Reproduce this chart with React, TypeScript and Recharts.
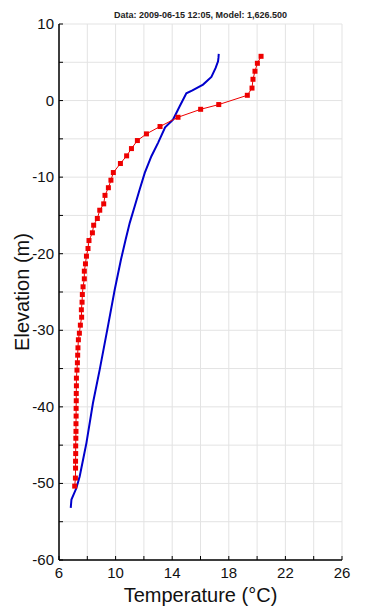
import {
  ScatterChart, Scatter, XAxis, YAxis, CartesianGrid,
} from "recharts";

// red: measured profile (square markers)
const redTemp = [
  20.28, 20.02, 19.85, 19.71, 19.64, 19.31, 17.29, 16.01, 14.41, 13.14,
  12.18, 11.54, 11.12, 10.78, 10.34, 9.84, 9.67, 9.49, 9.25, 9.16,
  8.88, 8.71, 8.45, 8.36, 8.12, 8.05, 7.94, 7.87, 7.79, 7.79,
  7.7, 7.65, 7.63, 7.58, 7.6, 7.51, 7.44, 7.37, 7.34, 7.32,
  7.3, 7.27, 7.23, 7.23, 7.22, 7.22, 7.21, 7.21, 7.2, 7.2,
  7.19, 7.18, 7.18, 7.17, 7.17, 7.16, 7.11,
];
const redElev = [
  5.78, 4.87, 3.83, 2.78, 1.63, 0.69, -0.52, -1.14, -2.18, -3.39,
  -4.35, -5.22, -6.27, -7.22, -8.22, -9.4, -10.4, -11.38, -12.38, -13.49,
  -14.32, -15.4, -16.28, -17.27, -18.28, -19.32, -20.32, -21.32, -22.28, -23.28,
  -24.32, -25.33, -26.33, -27.32, -28.29, -29.33, -30.38, -31.24, -32.29, -33.25,
  -34.24, -35.2, -36.25, -37.25, -38.25, -39.2, -40.2, -41.2, -42.2, -43.2,
  -44.1, -45.1, -46.1, -47.1, -48.0, -49.3, -50.35,
];

// blue: model profile
const blueTemp = [
  17.29, 17.27, 17.24, 17.07, 16.77, 16.18, 15.43, 15.0, 14.53, 14.06,
  13.5, 13.0, 12.53, 12.06, 11.7, 11.35, 11.0, 10.71, 10.38, 9.94,
  9.46, 8.88, 8.4, 7.94, 7.7, 7.46, 7.23, 6.88, 6.83,
];
const blueElev = [
  6.1, 5.6, 5.13, 4.27, 3.09, 2.09, 1.34, 0.95, -0.74, -2.48,
  -3.5, -5.52, -7.27, -9.44, -11.62, -13.8, -15.97, -18.15, -20.76, -24.67,
  -29.46, -35.1, -39.5, -44.7, -46.9, -49.1, -50.6, -52.1, -53.2,
];

const xTicks = [6, 8, 10, 12, 14, 16, 18, 20, 22, 24, 26];
const xLabels = [6, 10, 14, 18, 22, 26];
const yTicks = [10, 5, 0, -5, -10, -15, -20, -25, -30, -35, -40, -45, -50, -55, -60];
const yLabels = [10, 0, -10, -20, -30, -40, -50, -60];

const redData = redTemp.map((t, i) => ({ t, e: redElev[i] }));
const blueData = blueTemp.map((t, i) => ({ t, e: blueElev[i] }));

const FONT = "'Liberation Sans', Arial, sans-serif";
const RED = "#ee0000";
const BLUE = "#0000cc";

function XTick(props: any) {
  const { x, y, payload } = props;
  const v = payload.value;
  return (
    <g>
      <line x1={x} x2={x} y1={y} y2={y - 4} stroke="#000" strokeWidth={1} />
      {xLabels.includes(v) && (
        <text x={x} y={y + 18} textAnchor="middle" fontSize={15} fontFamily={FONT} fill="#111">
          {v}
        </text>
      )}
    </g>
  );
}

function YTick(props: any) {
  const { x, y, payload } = props;
  const v = payload.value;
  return (
    <g>
      <line x1={x} x2={x + 4} y1={y} y2={y} stroke="#000" strokeWidth={1} />
      {yLabels.includes(v) && (
        <text x={x - 5} y={y + 5} textAnchor="end" fontSize={15} fontFamily={FONT} fill="#111">
          {v}
        </text>
      )}
    </g>
  );
}

const Square = (props: any) => {
  const { cx, cy } = props;
  return <rect x={cx - 2.5} y={cy - 2.5} width={5} height={5} fill={RED} />;
};

const Nothing = () => <g />;

export default function App() {
  return (
    <div style={{ position: "absolute", left: 0, top: 0, width: 369, height: 611, background: "#fff" }}>
      <div
        style={{
          position: "absolute", left: 59, top: 10, width: 283, textAlign: "center",
          fontFamily: FONT, fontSize: 9, lineHeight: "11px", fontWeight: "bold", color: "#222",
        }}
      >
        Data: 2009-06-15 12:05, Model: 1,626.500
      </div>
      <ScatterChart width={369} height={611} margin={{ top: 24, right: 27, bottom: 0, left: 0 }}>
        <CartesianGrid stroke="#e3e3e3" />
        <XAxis
          type="number"
          dataKey="t"
          domain={[6, 26]}
          ticks={xTicks}
          interval={0}
          height={51}
          tickSize={0}
          tickMargin={0}
          tickLine={false}
          tick={<XTick />}
          axisLine={{ stroke: "#000", strokeWidth: 1.5 }}
          label={{
            value: "Temperature (°C)", position: "insideBottom", offset: 9,
            style: { fontSize: 20, fontFamily: FONT, fill: "#111" },
          }}
        />
        <YAxis
          type="number"
          dataKey="e"
          domain={[-60, 10]}
          ticks={yTicks}
          interval={0}
          width={59}
          tickSize={0}
          tickMargin={0}
          tickLine={false}
          tick={<YTick />}
          axisLine={{ stroke: "#000", strokeWidth: 1.5 }}
          label={{
            value: "Elevation (m)", angle: -90, position: "insideLeft", offset: 22,
            style: { fontSize: 20, fontFamily: FONT, fill: "#111", textAnchor: "middle" },
          }}
        />
        <Scatter
          data={blueData}
          line={{ stroke: BLUE, strokeWidth: 2 }}
          lineType="joint"
          shape={<Nothing />}
          isAnimationActive={false}
        />
        <Scatter
          data={redData}
          line={{ stroke: RED, strokeWidth: 1 }}
          lineType="joint"
          shape={<Square />}
          isAnimationActive={false}
        />
      </ScatterChart>
    </div>
  );
}
